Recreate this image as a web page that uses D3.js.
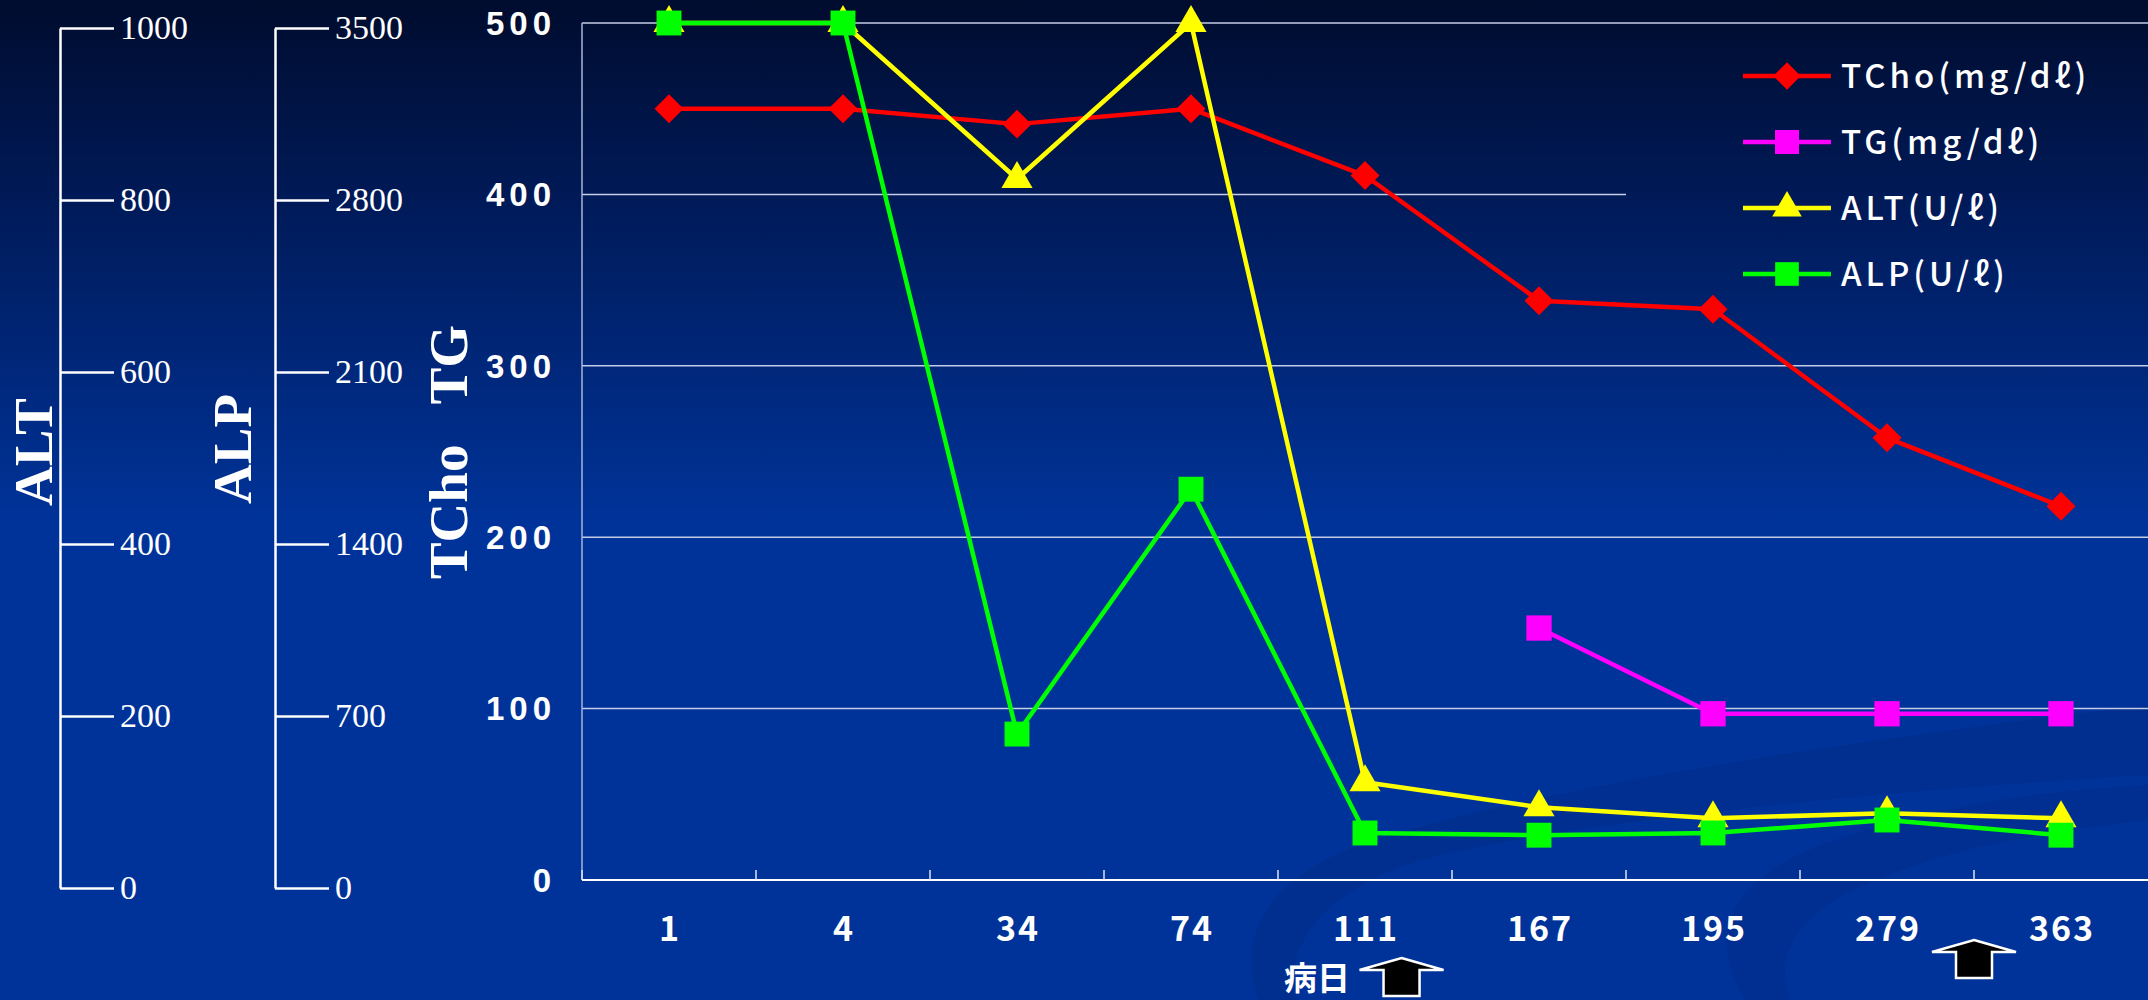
<!DOCTYPE html>
<html>
<head>
  <meta charset="utf-8">
  <script src="https://d3js.org/d3.v7.min.js"></script>
  <style>
    body {
      margin:0;
      background:#003399;
      overflow:hidden;
    }
    svg { display:block; }
    .serif { font-family: "Liberation Serif", "DejaVu Serif", serif; fill:#fff; }
    .gothic { font-family: "Noto Sans CJK JP", "Noto Sans", sans-serif; font-weight:bold; fill:#fff; }
    .num { font-family: "Liberation Sans", Arial, sans-serif; font-weight:bold; fill:#fff; }
  </style>
</head>
<body>
  <div id="chart"></div>

  <script>
    // data
    var days = ["1", "4", "34", "74", "111", "167", "195", "279", "363"];
    var tcho = [450, 450, 441, 450, 411, 338, 333, 258, 218];
    var tg   = [null, null, null, null, null, 147, 97, 97, 97];
    var alt  = [1000, 1000, 818, 1000, 114, 85, 72, 78, 72];
    var alp  = [3500, 3500, 596, 1596, 192, 183, 192, 245, 183];

    var mainTicks = [0, 100, 200, 300, 400, 500];
    var altTicks = [0, 200, 400, 600, 800, 1000];
    var alpTicks = [0, 700, 1400, 2100, 2800, 3500];

    var W = 2148, H = 1000;

    var svg = d3.select("#chart").append("svg")
      .attr("width", W)
      .attr("height", H);

    // background gradient (also reused for the legend box so it hides the grid)
    var grad = svg.append("defs").append("linearGradient")
      .attr("id", "bg")
      .attr("gradientUnits", "userSpaceOnUse")
      .attr("x1", 0).attr("y1", 0).attr("x2", 0).attr("y2", H);
    grad.append("stop").attr("offset", "0%").attr("stop-color", "#000c2e");
    grad.append("stop").attr("offset", "20%").attr("stop-color", "#001a58");
    grad.append("stop").attr("offset", "52%").attr("stop-color", "#003399");
    grad.append("stop").attr("offset", "100%").attr("stop-color", "#003399");

    svg.append("rect").attr("width", W).attr("height", H).attr("fill", "url(#bg)");

    // faint template swooshes, lower right
    var deco = svg.append("g").attr("fill", "#00287f").attr("opacity", 0.3);
    deco.append("path")
      .attr("d", "M1258,1000 C1236,930 1268,870 1390,835 C1600,775 1900,735 2148,705 L2148,775 C1900,790 1620,815 1440,855 C1320,885 1282,950 1298,1000 Z");
    deco.append("path")
      .attr("d", "M1745,1000 C1705,930 1732,880 1820,845 C1950,800 2060,790 2148,785 L2148,820 C2060,830 1960,845 1890,875 C1790,910 1775,960 1790,1000 Z");

    // ---- left hand axes (ALT, ALP) ----
    var altAxisScale = d3.scaleLinear().domain([0, 1000]).range([888, 28]);
    var alpAxisScale = d3.scaleLinear().domain([0, 3500]).range([888, 28]);

    function sideAxis(scale, ticks, xPos) {
      var g = svg.append("g")
        .attr("transform", "translate(" + xPos + ",0)")
        .call(d3.axisRight(scale).tickValues(ticks).tickFormat(d3.format("d"))
          .tickSize(54).tickSizeOuter(0).tickPadding(6));
      g.selectAll("path, line").attr("stroke", "#fff").attr("stroke-width", 2.5);
      g.selectAll("text")
        .attr("class", "serif")
        .attr("fill", "#fff")
        .style("font-size", "34px");
      g.attr("font-family", null).attr("font-size", null);
      return g;
    }
    sideAxis(altAxisScale, altTicks, 60);
    sideAxis(alpAxisScale, alpTicks, 275);

    function sideTitle(label, xPos, yPos) {
      svg.append("text")
        .attr("class", "serif")
        .attr("transform", "translate(" + xPos + "," + yPos + ") rotate(-90)")
        .attr("text-anchor", "middle")
        .style("font-size", "55px")
        .style("font-weight", "bold")
        .text(label);
    }
    sideTitle("ALT", 52, 452);
    sideTitle("ALP", 251, 449);
    sideTitle("TCho\u2002 TG", 467, 452);

    // ---- main plot ----
    var x = d3.scaleBand().domain(days).range([582, W]);
    var y = d3.scaleLinear().domain([0, 500]).range([880, 23]);
    var yAlt = d3.scaleLinear().domain([0, 1000]).range(y.range());
    var yAlp = d3.scaleLinear().domain([0, 3500]).range(y.range());

    var grid = svg.append("g");
    grid.selectAll("line")
      .data(mainTicks.filter(function(d) { return d > 0; }))
      .enter().append("line")
        .attr("x1", x.range()[0])
        .attr("x2", W)
        .attr("y1", function(d) { return y(d); })
        .attr("y2", function(d) { return y(d); })
        .attr("stroke", "#c4cce6")
        .attr("stroke-width", 1.5);

    // left frame line of the plot
    svg.append("line")
      .attr("x1", x.range()[0]).attr("x2", x.range()[0])
      .attr("y1", y(500)).attr("y2", y(0))
      .attr("stroke", "#aab4d8").attr("stroke-width", 1.5);

    svg.append("g").selectAll("text")
      .data(mainTicks)
      .enter().append("text")
        .attr("class", "num")
        .attr("x", 556)
        .attr("y", function(d) { return y(d); })
        .attr("dy", "0.36em")
        .attr("text-anchor", "end")
        .style("font-size", "33px")
        .style("letter-spacing", "5px")
        .text(function(d) { return d; });

    // x axis
    var xAxis = svg.append("g");
    xAxis.append("line")
      .attr("x1", x.range()[0]).attr("x2", W)
      .attr("y1", y(0)).attr("y2", y(0))
      .attr("stroke", "#fff").attr("stroke-width", 2);
    xAxis.selectAll(".tick")
      .data(days)
      .enter().append("line")
        .attr("x1", function(d) { return x(d); })
        .attr("x2", function(d) { return x(d); })
        .attr("y1", y(0))
        .attr("y2", y(0) - 10)
        .attr("stroke", "#dde2f2")
        .attr("stroke-width", 1.5);
    xAxis.selectAll("text")
      .data(days)
      .enter().append("text")
        .attr("class", "gothic")
        .attr("x", function(d) { return x(d) + x.bandwidth() / 2 + 1; })
        .attr("y", 929)
        .attr("dy", "0.36em")
        .attr("text-anchor", "middle")
        .style("font-size", "34px")
        .style("letter-spacing", "2px")
        .text(function(d) { return d; });

    // legend box hides the gridline behind it
    svg.append("rect")
      .attr("x", 1626).attr("y", 40)
      .attr("width", W - 1626).attr("height", 280)
      .attr("fill", "url(#bg)");

    var series = [
      { name: "TCho(mg/d\u2113)", values: tcho, scale: y,    color: "#ff0000", shape: d3.symbolSquare,   size: 420, rot: 45 },
      { name: "TG(mg/d\u2113)",   values: tg,   scale: y,    color: "#ff00ff", shape: d3.symbolSquare,   size: 640, rot: 0 },
      { name: "ALT(U/\u2113)",    values: alt,  scale: yAlt, color: "#ffff00", shape: d3.symbolTriangle, size: 420, rot: 0 },
      { name: "ALP(U/\u2113)",    values: alp,  scale: yAlp, color: "#00ff00", shape: d3.symbolSquare,   size: 620, rot: 0 }
    ];

    var xc = function(i) { return x(days[i]) + x.bandwidth() / 2; };

    series.forEach(function(s) {
      var line = d3.line()
        .defined(function(d) { return d != null; })
        .x(function(d, i) { return xc(i); })
        .y(function(d) { return s.scale(d); });

      var g = svg.append("g");
      g.append("path")
        .datum(s.values)
        .attr("d", line)
        .attr("fill", "none")
        .attr("stroke", s.color)
        .attr("stroke-width", 4.5)
        .attr("stroke-linejoin", "round");

      g.selectAll(".pt")
        .data(s.values.map(function(v, i) { return { v: v, i: i }; }).filter(function(d) { return d.v != null; }))
        .enter().append("path")
          .attr("d", d3.symbol().type(s.shape).size(s.size))
          .attr("transform", function(d) {
            return "translate(" + xc(d.i) + "," + s.scale(d.v) + ") rotate(" + s.rot + ")";
          })
          .attr("fill", s.color);
    });

    // legend
    var legend = svg.append("g");
    series.forEach(function(s, i) {
      var ly = 76 + i * 66;
      legend.append("line")
        .attr("x1", 1743).attr("x2", 1831)
        .attr("y1", ly).attr("y2", ly)
        .attr("stroke", s.color).attr("stroke-width", 4.5);
      legend.append("path")
        .attr("d", d3.symbol().type(s.shape).size(s.size * 0.9))
        .attr("transform", "translate(1787," + ly + ") rotate(" + s.rot + ")")
        .attr("fill", s.color);
      legend.append("text")
        .attr("class", "gothic")
        .attr("x", 1841)
        .attr("y", ly)
        .attr("dy", "0.36em")
        .style("font-size", "33px")
        .style("font-weight", "500")
        .style("letter-spacing", "4px")
        .text(s.name);
    });

    // 病日 label and the two block arrows
    svg.append("text")
      .attr("class", "gothic")
      .attr("x", 1284)
      .attr("y", 978)
      .attr("dy", "0.36em")
      .style("font-size", "33px")
      .text("病日");

    function arrow(cx, top) {
      var hw = 42, hh = 12, sw = 18, len = 38;
      var p = d3.path();
      p.moveTo(cx, top);
      p.lineTo(cx + hw, top + hh);
      p.lineTo(cx + sw, top + hh);
      p.lineTo(cx + sw, top + len);
      p.lineTo(cx - sw, top + len);
      p.lineTo(cx - sw, top + hh);
      p.lineTo(cx - hw, top + hh);
      p.closePath();
      svg.append("path")
        .attr("d", p.toString())
        .attr("fill", "#000")
        .attr("stroke", "#fff")
        .attr("stroke-width", 2.5)
        .attr("stroke-linejoin", "miter");
    }
    arrow(x(days[4]) + x.bandwidth() * 0.71, 958);
    arrow(x(days[8]), 940);
  </script>
</body>
</html>
